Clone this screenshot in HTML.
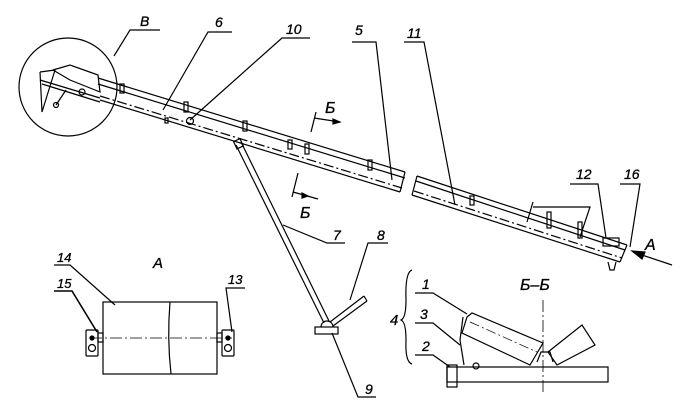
<!DOCTYPE html>
<html><head><meta charset="utf-8"><style>
html,body{margin:0;padding:0;background:#fff;}
svg{display:block}
text{font-family:"Liberation Sans","DejaVu Sans",sans-serif;font-style:italic;font-weight:normal;fill:#000;stroke:#000;stroke-width:0.3;}
</style></head><body>
<svg width="682" height="405" viewBox="0 0 682 405" xmlns="http://www.w3.org/2000/svg" stroke="#000" fill="none" stroke-width="1.2">
<circle cx="68" cy="87" r="49"/>
<polyline points="40,72 42,112 55,70 40,72"/>
<polyline points="53,70 70,65 98,75 100,92 70,80 53,70"/>
<line x1="40" y1="80" x2="100" y2="98"/>
<line x1="42" y1="84" x2="100" y2="102"/>
<line x1="66" y1="90" x2="56" y2="105"/>
<circle cx="56" cy="105" r="2.5"/>
<circle cx="82" cy="92" r="3"/>
<line x1="98" y1="78" x2="405" y2="172"/>
<line x1="98" y1="84" x2="405" y2="178"/>
<line x1="100" y1="96" x2="402" y2="188" stroke-dasharray="10,3,2,3"/>
<line x1="100" y1="100" x2="400" y2="192"/>
<line x1="405" y1="172" x2="400" y2="192"/>
<rect x="120" y="84" width="4" height="9"/>
<rect x="184" y="102" width="4" height="10"/>
<rect x="243" y="121" width="4" height="10"/>
<rect x="288" y="140" width="4" height="9"/>
<rect x="305" y="144" width="4" height="10"/>
<rect x="368" y="160" width="4" height="10"/>
<rect x="165" y="118" width="3" height="5"/>
<circle cx="190" cy="121" r="3.5"/>
<line x1="417" y1="176" x2="627" y2="245"/>
<line x1="416" y1="181" x2="625" y2="250"/>
<line x1="414" y1="191" x2="622" y2="258" stroke-dasharray="10,3,2,3"/>
<line x1="412" y1="195" x2="620" y2="262"/>
<line x1="417" y1="176" x2="412" y2="195"/>
<line x1="627" y1="245" x2="620" y2="262"/>
<rect x="470" y="196" width="4" height="9"/>
<polyline points="533,202 527,222"/>
<polyline points="533,207 590,207 580,237"/>
<rect x="547" y="212" width="4" height="16"/>
<rect x="578" y="222" width="4" height="16"/>
<rect x="603" y="238" width="16" height="8"/>
<polyline points="608,262 610,270 614,270 616,262"/>
<line x1="236" y1="145" x2="324" y2="323"/>
<line x1="241" y1="142" x2="329" y2="321"/>
<rect x="235" y="140" width="7" height="8" transform="rotate(-25 238 144)"/>
<rect x="315" y="327" width="23" height="7"/>
<path d="M321,327 A6,6 0 0 1 333,327"/>
<line x1="330" y1="322" x2="364" y2="296"/>
<line x1="333" y1="326" x2="367" y2="301"/>
<line x1="364" y1="296" x2="367" y2="301"/>
<line x1="316" y1="112" x2="311" y2="132"/>
<line x1="314" y1="118" x2="340" y2="122"/>
<polygon points="340,122 333,119 333,124" fill="#000"/>
<line x1="298" y1="173" x2="292" y2="197"/>
<line x1="293" y1="192" x2="318" y2="199"/>
<polygon points="308,196 302,193 302,198" fill="#000"/>
<text x="325" y="113" font-size="16">Б</text>
<text x="300" y="218" font-size="16">Б</text>
<g font-size="14">
<text x="140" y="26">В</text>
<polyline points="160,30 130,30 114,56"/>
<text x="215" y="27">6</text>
<polyline points="232,32 208,32 163,110"/>
<text x="286" y="34">10</text>
<polyline points="310,38 282,38 190,120"/>
<text x="355" y="35">5</text>
<polyline points="352,42 376,42 392,180"/>
<text x="407" y="38">11</text>
<polyline points="404,42 424,42 455,205"/>
<text x="576" y="179">12</text>
<polyline points="570,184 598,184 606,238"/>
<text x="624" y="179">16</text>
<polyline points="620,184 640,184 630,247"/>
<text x="645" y="250" font-size="16">А</text>
<line x1="672" y1="265" x2="636" y2="253"/>
<polygon points="632,251 645,252 642,259" fill="#000"/>
<text x="333" y="240">7</text>
<polyline points="283,225 327,243 345,243"/>
<text x="377" y="240">8</text>
<polyline points="350,300 368,243 388,243"/>
<text x="365" y="394">9</text>
<polyline points="332,333 358,397 376,397"/>
</g>
<text x="153" y="268" font-size="15">А</text>
<rect x="103" y="302" width="114" height="72"/>
<path d="M170,302 Q167,338 171,374"/>
<line x1="90" y1="338" x2="232" y2="338" stroke-dasharray="12,3,2,3" stroke-width="0.8"/>
<rect x="86" y="330" width="12" height="26" rx="1"/>
<rect x="222" y="330" width="12" height="26" rx="1"/>
<rect x="98" y="333" width="5" height="9"/>
<rect x="217" y="333" width="5" height="9"/>
<circle cx="92" cy="338" r="2" fill="#000"/>
<circle cx="92" cy="348" r="3.5"/>
<circle cx="228" cy="338" r="2" fill="#000"/>
<circle cx="228" cy="348" r="3.5"/>
<g font-size="13">
<text x="57" y="262">14</text>
<polyline points="54,265 70,265 115,305"/>
<text x="57" y="288">15</text>
<polyline points="54,291 72,291 97,332" stroke-width="1.6"/>
<text x="228" y="284">13</text>
<polyline points="245,288 226,288 232,332"/>
</g>
<text x="520" y="290" font-size="16">Б–Б</text>
<path d="M412,270 Q405,272 406,300 Q406,318 401,320 Q406,322 406,340 Q405,362 412,364"/>
<text x="390" y="325" font-size="15">4</text>
<g font-size="14">
<text x="422" y="289">1</text>
<polyline points="415,293 433,293 467,314"/>
<text x="420" y="319">3</text>
<polyline points="415,323 433,323 460,345"/>
<text x="422" y="351">2</text>
<polyline points="415,355 433,355 450,367"/>
</g>
<rect x="447" y="367" width="161" height="15"/>
<rect x="447" y="365" width="10" height="22"/>
<polyline points="463,317 460,340 464,365"/>
<circle cx="476" cy="366" r="3"/>
<polygon points="467,317 472,313 543,343 530,365 462,333"/>
<line x1="470" y1="322" x2="537" y2="352" stroke-dasharray="10,3,2,3" stroke-width="0.7"/>
<polygon points="548,352 582,325 595,345 557,365"/>
<path d="M537,362 L541,352 L550,352 L553,362"/>
<line x1="543" y1="300" x2="543" y2="395" stroke-dasharray="12,3,2,3" stroke-width="0.8"/>
</svg>
</body></html>
